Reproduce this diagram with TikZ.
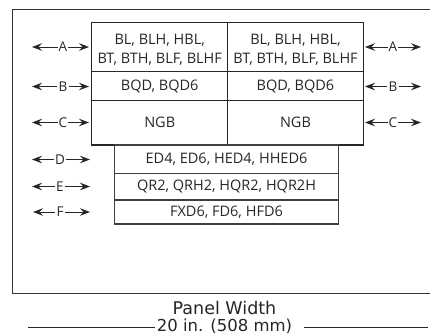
\documentclass[tikz,border=0pt]{standalone}
\usepackage{fontspec}
\setmainfont{Open Sans}
\newfontfamily\dimfont{DejaVu Sans}
\usetikzlibrary{arrows.meta}
\begin{document}
\begin{tikzpicture}[x=1pt,y=-1pt,
  cell/.style={draw=black!85,line width=1.1pt},
  lbl/.style={font=\fontsize{13.5}{14}\selectfont,text=black!85,inner sep=1pt},
  txt/.style={font=\fontsize{14.5}{19}\selectfont,text=black!85,align=center,inner sep=0pt},
  harr/.style={-{Stealth[length=10pt,width=7.5pt,inset=3.5pt]},line width=0.9pt,black!85},
  dimtxt/.style={font=\dimfont\fontsize{16.5}{18}\selectfont,text=black!85,inner sep=0pt}]
\useasboundingbox (0,0) rectangle (430,335);
% panel outline
\draw[black!80,line width=1pt] (430,9) -- (12,9) -- (12,293) -- (430,293);
% upper boxes
\draw[cell] (91.7,22.3) rectangle (363.3,145);
\draw[cell] (227.7,22.3) -- (227.7,145);
\draw[cell] (91.7,71.7) -- (363.3,71.7);
\draw[cell] (91.7,100.7) -- (363.3,100.7);
% lower boxes
\draw[cell,draw=black!75] (114.3,145) rectangle (338.7,224);
\draw[cell,draw=black!75] (114.3,173.3) -- (338.7,173.3);
\draw[cell,draw=black!75] (114.3,200) -- (338.7,200);
% texts
\node[txt] (ta1) at (159.7,49.5) {BL, BLH, HBL,\\BT, BTH, BLF, BLHF};
\node[txt] (ta2) at (295.5,49.5) {BL, BLH, HBL,\\BT, BTH, BLF, BLHF};
\node[txt] (tb1) at (159.7,86.5) {BQD, BQD6};
\node[txt] (tb2) at (295.5,86.5) {BQD, BQD6};
\node[txt] (tc1) at (159.7,122.5) {NGB};
\node[txt] (tc2) at (295.5,122.5) {NGB};
\node[txt] (td) at (226.5,159.5) {ED4, ED6, HED4, HHED6};
\node[txt] (te) at (226.5,186.5) {QR2, QRH2, HQR2, HQR2H};
\node[txt] (tf) at (226.5,212) {FXD6, FD6, HFD6};
% side labels
\foreach \n/\t/\y/\xl/\xa/\xb in {la/A/47/63/32/89, lb/B/86.5/63/32/89, lc/C/122.5/63/32/89,
  ra/A/47/393/365/421, rb/B/86.5/393/365/421, rc/C/122.5/393/365/421,
  ld/D/159.5/60/32/90, le/E/186.5/60/32/90, lf/F/212/60/33/90}{
  \node[lbl] (\n) at (\xl,\y) {\t};
  \coordinate (\n1) at (\xa,\y);
  \coordinate (\n2) at (\xb,\y);
  \draw[harr] (\n.west) -- (\n1);
  \draw[harr] (\n.east) -- (\n2);
}
% panel width
\node[dimtxt,font=\dimfont\fontsize{17.5}{18}\selectfont] (pw) at (224.5,308) {Panel Width};
\node[dimtxt] (dim) at (224.5,326) {20 in. (508 mm)};
\coordinate (dl) at (28,327);
\coordinate (dr) at (428,327);
\draw[black!85,line width=0.9pt] ([xshift=-2pt]dim.west |- dl) -- (dl);
\draw[black!85,line width=0.9pt] ([xshift=12pt]dim.east |- dr) -- (dr);
\end{tikzpicture}
\end{document}
